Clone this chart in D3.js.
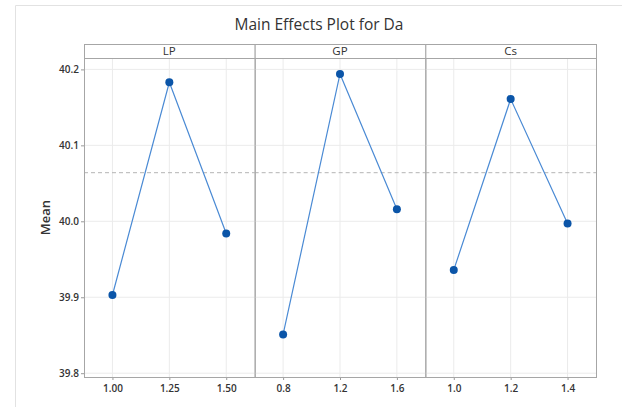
<!DOCTYPE html>
<html>
<head>
<meta charset="utf-8">
<script src="https://cdn.jsdelivr.net/npm/d3@7"></script>
<style>
  html, body { margin: 0; padding: 0; background: #fff; }
  svg { display: block; font-family: "Open Sans", "Noto Sans", sans-serif; }
</style>
</head>
<body>
<svg id="chart" width="622" height="407"></svg>
<script>
// Factors and their levels
const factors = ["LP", "GP", "Cs"];
const levelsLP = ["1.00", "1.25", "1.50"];
const levelsGP = ["0.8", "1.2", "1.6"];
const levelsCs = ["1.0", "1.2", "1.4"];
// Mean of Da at each level
const meansLP = [39.903, 40.183, 39.984];
const meansGP = [39.851, 40.194, 40.016];
const meansCs = [39.936, 40.161, 39.997];
const grandMean = 40.064;
const yTicks = [39.8, 39.9, 40.0, 40.1, 40.2];

const panels = [
  { name: factors[0], levels: levelsLP, means: meansLP },
  { name: factors[1], levels: levelsGP, means: meansGP },
  { name: factors[2], levels: levelsCs, means: meansCs }
];

const svg = d3.select("#chart");
const W = 622, H = 407;
const left = 84, right = 596, stripTop = 44, plotTop = 58, bottom = 377;

// light frame around the graph window
svg.append("path")
  .attr("d", `M15.5,${H} L15.5,5.5 L${W},5.5`)
  .attr("fill", "none").attr("stroke", "#e2e2e2").attr("stroke-width", 1);

svg.append("text")
  .attr("x", 319).attr("y", 30)
  .attr("text-anchor", "middle")
  .attr("font-size", 15.5).attr("fill", "#333")
  .text("Main Effects Plot for Da");

const y = d3.scaleLinear().domain([39.795, 40.215]).range([bottom, plotTop]);

const panelW = (right - left) / panels.length;
const x0 = d3.scaleBand().domain(factors).range([left, right]).padding(0);

// y axis
const yAxis = svg.append("g")
  .attr("transform", `translate(${left},0)`)
  .call(d3.axisLeft(y).tickValues(yTicks).tickFormat(d3.format(".1f")).tickSize(3).tickPadding(2));
yAxis.select(".domain").remove();
yAxis.selectAll("line").attr("stroke", "#999");
yAxis.selectAll("text").attr("font-size", 10).attr("font-weight", 600).attr("fill", "#333")
  .attr("font-family", "\"Open Sans\", sans-serif");

svg.append("text")
  .attr("transform", `translate(50,${(plotTop + bottom) / 2}) rotate(-90)`)
  .attr("text-anchor", "middle")
  .attr("font-size", 13).attr("font-weight", 600).attr("fill", "#333")
  .text("Mean");

const line = d3.line();

panels.forEach(p => {
  const px = x0(p.name);
  const x = d3.scalePoint().domain(p.levels).range([px, px + panelW]).padding(0.5);
  const g = svg.append("g");

  // grid
  g.selectAll(".hg").data(yTicks).join("line")
    .attr("x1", px).attr("x2", px + panelW)
    .attr("y1", d => y(d)).attr("y2", d => y(d))
    .attr("stroke", "#ebebeb").attr("stroke-width", 1);
  g.selectAll(".vg").data(p.levels).join("line")
    .attr("x1", d => x(d)).attr("x2", d => x(d))
    .attr("y1", plotTop).attr("y2", bottom)
    .attr("stroke", "#ebebeb").attr("stroke-width", 1);

  // reference line at the overall mean
  g.append("line")
    .attr("x1", px).attr("x2", px + panelW)
    .attr("y1", y(grandMean)).attr("y2", y(grandMean))
    .attr("stroke", "#b4b4b4").attr("stroke-width", 1)
    .attr("stroke-dasharray", "4,3");

  // x axis
  const xa = g.append("g")
    .attr("transform", `translate(0,${bottom})`)
    .call(d3.axisBottom(x).tickSize(3).tickPadding(5));
  xa.select(".domain").remove();
  xa.selectAll("line").attr("stroke", "#999");
  xa.selectAll("text").attr("font-size", 10).attr("font-weight", 600).attr("fill", "#333")
    .attr("font-family", "\"Open Sans\", sans-serif");

  // strip
  g.append("rect")
    .attr("x", px + 0.5).attr("y", stripTop + 0.5)
    .attr("width", panelW).attr("height", plotTop - stripTop)
    .attr("fill", "#fff").attr("stroke", "#a6a6a6");
  g.append("text")
    .attr("x", px + panelW / 2).attr("y", stripTop + 11)
    .attr("text-anchor", "middle").attr("font-size", 11.5).attr("fill", "#333")
    .text(p.name);

  // panel frame
  g.append("rect")
    .attr("x", px + 0.5).attr("y", plotTop + 0.5)
    .attr("width", panelW).attr("height", bottom - plotTop)
    .attr("fill", "none").attr("stroke", "#a6a6a6");

  // means
  const pts = p.levels.map((l, i) => [x(l), y(p.means[i])]);
  g.append("path").attr("d", line(pts))
    .attr("fill", "none").attr("stroke", "#4a8ad4").attr("stroke-width", 1.2);
  g.selectAll("circle").data(pts).join("circle")
    .attr("cx", d => d[0]).attr("cy", d => d[1]).attr("r", 4)
    .attr("fill", "#0b55a8");
});
</script>
</body>
</html>
